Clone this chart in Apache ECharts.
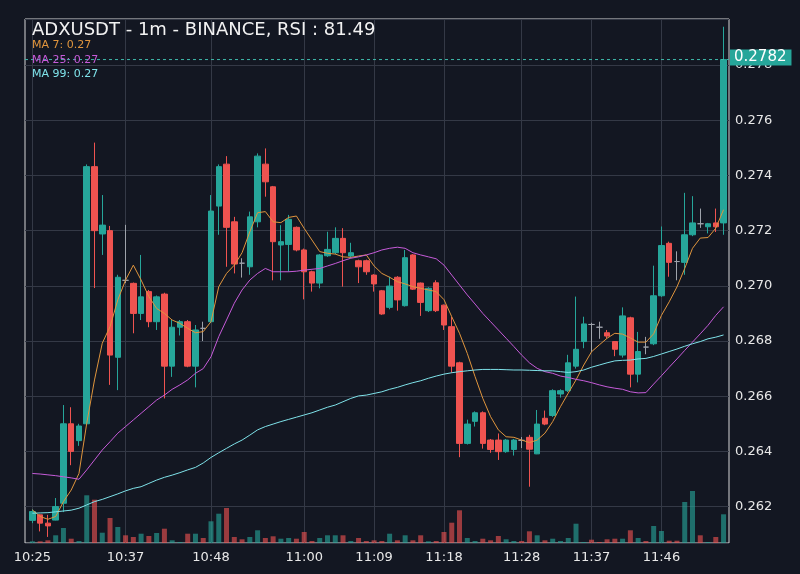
<!DOCTYPE html>
<html>
<head>
<meta charset="utf-8">
<script src="https://cdn.jsdelivr.net/npm/echarts@6/dist/echarts.min.js"></script>
<style>
  html, body { margin: 0; padding: 0; background: #131722; }
  #main { width: 800px; height: 574px; }
</style>
</head>
<body>
<div id="main"></div>
<script>
// 1m candles, 10:25 -> 11:54
var times = [];
for (var k = 0; k < 90; k++) {
  var t = 10 * 60 + 25 + k;
  times.push(Math.floor(t / 60) + ':' + ('0' + (t % 60)).slice(-2));
}
var tickLabels = ['10:25', '10:37', '10:48', '11:00', '11:09', '11:18', '11:28', '11:37', '11:46'];

var opens = [
  0.26150, 0.26170, 0.26140, 0.26151, 0.26212, 0.26500, 0.26439, 0.26500, 0.27432, 0.27188,
  0.27200, 0.26741, 0.27020, 0.27009, 0.26900, 0.26979, 0.26870, 0.26970, 0.26709, 0.26850,
  0.26870, 0.26709, 0.26846, 0.26870, 0.27289, 0.27441, 0.27232, 0.27082, 0.27069, 0.27232,
  0.27441, 0.27359, 0.27148, 0.27150, 0.27212, 0.27130, 0.27051, 0.27010, 0.27109, 0.27120,
  0.27172, 0.27108, 0.27091, 0.27091, 0.27039, 0.26982, 0.26922, 0.27031, 0.26928, 0.27112,
  0.27010, 0.26910, 0.27011, 0.26930, 0.26852, 0.26721, 0.26429, 0.26509, 0.26540, 0.26441,
  0.26441, 0.26399, 0.26407, 0.26440, 0.26451, 0.26391, 0.26520, 0.26530, 0.26608, 0.26620,
  0.26709, 0.26798, 0.26860, 0.26850, 0.26830, 0.26798, 0.26749, 0.26884, 0.26680, 0.26778,
  0.26790, 0.26964, 0.27154, 0.27088, 0.27085, 0.27185, 0.27225, 0.27214, 0.27228, 0.27228
];
var closes = [
  0.26182, 0.26140, 0.26130, 0.26200, 0.26500, 0.26400, 0.26492, 0.27432, 0.27200, 0.27220,
  0.26749, 0.27031, 0.27020, 0.26900, 0.26960, 0.26870, 0.26960, 0.26709, 0.26850, 0.26870,
  0.26709, 0.26840, 0.26846, 0.27271, 0.27432, 0.27212, 0.27079, 0.27082, 0.27250, 0.27470,
  0.27377, 0.27160, 0.27160, 0.27241, 0.27130, 0.27051, 0.27010, 0.27112, 0.27132, 0.27172,
  0.27120, 0.27120, 0.27069, 0.27051, 0.27007, 0.26898, 0.26999, 0.26949, 0.27102, 0.26988,
  0.26940, 0.26991, 0.26910, 0.26858, 0.26709, 0.26429, 0.26499, 0.26540, 0.26429, 0.26407,
  0.26399, 0.26441, 0.26441, 0.26440, 0.26408, 0.26499, 0.26499, 0.26620, 0.26620, 0.26721,
  0.26770, 0.26862, 0.26860, 0.26850, 0.26818, 0.26770, 0.26891, 0.26680, 0.26762, 0.26778,
  0.26964, 0.27146, 0.27085, 0.27088, 0.27185, 0.27228, 0.27225, 0.27225, 0.27214, 0.27820
];
var lows = [
  0.26140, 0.26110, 0.26090, 0.26150, 0.26180, 0.26350, 0.26420, 0.26500, 0.26992, 0.27112,
  0.26641, 0.26622, 0.27010, 0.26828, 0.26876, 0.26850, 0.26840, 0.26592, 0.26670, 0.26820,
  0.26705, 0.26632, 0.26800, 0.26865, 0.27185, 0.27069, 0.27045, 0.27030, 0.27040, 0.27212,
  0.27323, 0.27020, 0.27020, 0.27051, 0.27125, 0.26951, 0.26979, 0.26991, 0.27105, 0.27115,
  0.26997, 0.27100, 0.27010, 0.27040, 0.26979, 0.26895, 0.26915, 0.26910, 0.26925, 0.26985,
  0.26891, 0.26905, 0.26905, 0.26840, 0.26685, 0.26379, 0.26425, 0.26490, 0.26410, 0.26395,
  0.26369, 0.26395, 0.26385, 0.26412, 0.26272, 0.26390, 0.26495, 0.26525, 0.26595, 0.26615,
  0.26700, 0.26774, 0.26760, 0.26808, 0.26810, 0.26745, 0.26740, 0.26632, 0.26650, 0.26752,
  0.26785, 0.26960, 0.27033, 0.27020, 0.27040, 0.27180, 0.27210, 0.27190, 0.27195, 0.27185
];
var highs = [
  0.26190, 0.26172, 0.26170, 0.26231, 0.26568, 0.26560, 0.26500, 0.27440, 0.27519, 0.27329,
  0.27217, 0.27040, 0.27221, 0.27012, 0.27112, 0.26985, 0.26965, 0.26975, 0.26876, 0.26876,
  0.26876, 0.26858, 0.26870, 0.27329, 0.27440, 0.27470, 0.27250, 0.27100, 0.27269, 0.27480,
  0.27498, 0.27362, 0.27220, 0.27257, 0.27215, 0.27135, 0.27055, 0.27115, 0.27196, 0.27212,
  0.27209, 0.27156, 0.27095, 0.27095, 0.27042, 0.26985, 0.27033, 0.27035, 0.27130, 0.27115,
  0.27012, 0.26995, 0.27020, 0.26932, 0.26888, 0.26725, 0.26515, 0.26545, 0.26545, 0.26445,
  0.26465, 0.26445, 0.26445, 0.26452, 0.26460, 0.26550, 0.26548, 0.26625, 0.26625, 0.26750,
  0.26961, 0.26888, 0.26866, 0.26870, 0.26840, 0.26800, 0.26922, 0.26888, 0.26833, 0.26815,
  0.27073, 0.27215, 0.27160, 0.27125, 0.27337, 0.27325, 0.27280, 0.27228, 0.27280, 0.27939
];
var volumes = [
  1700, 1700, 2700, 7700, 15000, 4300, 2000, 47700, 43300, 10300,
  25000, 16000, 7700, 6000, 9300, 7000, 10000, 14300, 2700, 1000,
  9300, 9300, 5000, 21700, 29300, 35000, 6000, 3700, 6000, 12700,
  5000, 6700, 4300, 5000, 4300, 11000, 2000, 5000, 7700, 7700,
  7700, 2000, 5000, 2000, 2700, 2000, 9300, 2700, 7700, 2700,
  7700, 1700, 2000, 11000, 20300, 32700, 5000, 2000, 4300, 2700,
  7000, 3700, 2000, 2000, 11700, 7700, 2700, 4300, 2000, 5000,
  19300, 1000, 3300, 1000, 3700, 4300, 4300, 12700, 5000, 2000,
  17000, 12000, 2300, 2300, 41000, 52000, 7700, 1000, 6000, 28700
];
var ma7 = [
  0.26188, 0.26164, 0.26154, 0.26164, 0.26218, 0.26260, 0.26320, 0.26502, 0.26659, 0.26792,
  0.26852, 0.26949, 0.27021, 0.27075, 0.27021, 0.26961, 0.26918, 0.26900, 0.26876, 0.26864,
  0.26846, 0.26830, 0.26834, 0.26870, 0.26997, 0.27045, 0.27075, 0.27120, 0.27196, 0.27265,
  0.27269, 0.27232, 0.27229, 0.27248, 0.27253, 0.27208, 0.27166, 0.27124, 0.27118, 0.27115,
  0.27105, 0.27103, 0.27108, 0.27112, 0.27072, 0.27045, 0.27031, 0.27015, 0.27007, 0.26997,
  0.26991, 0.26985, 0.26979, 0.26950, 0.26888, 0.26828, 0.26755, 0.26671, 0.26592, 0.26526,
  0.26478, 0.26453, 0.26451, 0.26441, 0.26432, 0.26441, 0.26466, 0.26508, 0.26562, 0.26611,
  0.26659, 0.26713, 0.26761, 0.26786, 0.26810, 0.26828, 0.26825, 0.26811, 0.26796, 0.26796,
  0.26826, 0.26893, 0.26942, 0.26996, 0.27063, 0.27136, 0.27173, 0.27175, 0.27209, 0.27276
];
var ma25 = [
  0.26320, 0.26318, 0.26315, 0.26312, 0.26308, 0.26304, 0.26299, 0.26333, 0.26369, 0.26405,
  0.26435, 0.26466, 0.26490, 0.26514, 0.26538, 0.26562, 0.26586, 0.26604, 0.26625, 0.26641,
  0.26659, 0.26683, 0.26700, 0.26743, 0.26816, 0.26876, 0.26937, 0.26985, 0.27021, 0.27045,
  0.27063, 0.27051, 0.27051, 0.27051, 0.27053, 0.27057, 0.27060, 0.27063, 0.27072, 0.27081,
  0.27091, 0.27100, 0.27105, 0.27112, 0.27120, 0.27130, 0.27136, 0.27140, 0.27136, 0.27120,
  0.27112, 0.27105, 0.27098, 0.27075, 0.27039, 0.27003, 0.26967, 0.26934, 0.26900, 0.26870,
  0.26840, 0.26810, 0.26780, 0.26749, 0.26721, 0.26701, 0.26689, 0.26683, 0.26673, 0.26668,
  0.26661, 0.26656, 0.26649, 0.26641, 0.26634, 0.26629, 0.26625, 0.26616, 0.26612, 0.26613,
  0.26644, 0.26674, 0.26705, 0.26735, 0.26766, 0.26796, 0.26826, 0.26857, 0.26893, 0.26924
];
var ma99 = [
  0.26176, 0.26177, 0.26178, 0.26181, 0.26184, 0.26187, 0.26194, 0.26206, 0.26218, 0.26226,
  0.26236, 0.26246, 0.26257, 0.26266, 0.26272, 0.26284, 0.26296, 0.26306, 0.26314, 0.26323,
  0.26333, 0.26342, 0.26358, 0.26378, 0.26395, 0.26411, 0.26427, 0.26441, 0.26459, 0.26478,
  0.26490, 0.26499, 0.26508, 0.26516, 0.26524, 0.26532, 0.26540, 0.26550, 0.26560, 0.26568,
  0.26580, 0.26592, 0.26601, 0.26604, 0.26610, 0.26616, 0.26625, 0.26632, 0.26641, 0.26649,
  0.26656, 0.26665, 0.26673, 0.26680, 0.26685, 0.26689, 0.26692, 0.26695, 0.26697, 0.26697,
  0.26697, 0.26696, 0.26695, 0.26695, 0.26694, 0.26693, 0.26692, 0.26692, 0.26689, 0.26686,
  0.26689, 0.26695, 0.26705, 0.26713, 0.26721, 0.26728, 0.26730, 0.26731, 0.26735, 0.26737,
  0.26744, 0.26753, 0.26762, 0.26771, 0.26781, 0.26790, 0.26798, 0.26808, 0.26814, 0.26822
];
var lastPrice = 0.2782;
var rsi = 81.49;

var UP = '#26a69a', DOWN = '#ef5350', DOJI = '#9ea3ab';
var FONT = 'DejaVu Sans';
var X_MIN = -0.95, X_MAX = 89.7;

var chart = echarts.init(document.getElementById('main'), null, { renderer: 'canvas' });

var candleData = [], volData = [], l7 = [], l25 = [], l99 = [];
for (var i = 0; i < times.length; i++) {
  var item = { value: [i, opens[i], closes[i], lows[i], highs[i]] };
  if (opens[i] === closes[i]) {
    // doji drawn grey
    item.itemStyle = { color: DOJI, color0: DOJI, borderColor: DOJI, borderColor0: DOJI, borderColorDoji: DOJI };
  }
  candleData.push(item);
  volData.push({
    value: [i, volumes[i]],
    itemStyle: { color: closes[i] > opens[i] ? 'rgba(38,166,154,0.62)' : 'rgba(239,83,80,0.62)' }
  });
  l7.push([i, ma7[i]]);
  l25.push([i, ma25[i]]);
  l99.push([i, ma99[i]]);
}
var tickIdx = tickLabels.map(function (s) { return times.indexOf(s); });

var option = {
  backgroundColor: '#131722',
  animation: false,
  textStyle: { fontFamily: FONT },
  title: [
    { text: 'ADXUSDT - 1m - BINANCE, RSI : ' + rsi.toFixed(2), left: 32, top: 21, padding: 0,
      textStyle: { color: '#f2f2f2', fontSize: 18, fontWeight: 'normal', fontFamily: FONT } },
    { text: 'MA 7: ' + ma7[ma7.length - 1].toFixed(2), left: 32, top: 40, padding: 0,
      textStyle: { color: '#e0953d', fontSize: 11, fontWeight: 'normal', fontFamily: FONT } },
    { text: 'MA 25: ' + ma25[ma25.length - 1].toFixed(2), left: 32, top: 54.5, padding: 0,
      textStyle: { color: '#c65bd9', fontSize: 11, fontWeight: 'normal', fontFamily: FONT } },
    { text: 'MA 99: ' + ma99[ma99.length - 1].toFixed(2), left: 32, top: 69, padding: 0,
      textStyle: { color: '#7fe3ea', fontSize: 11, fontWeight: 'normal', fontFamily: FONT } }
  ],
  grid: {
    left: 25, right: 71, top: 19, bottom: 31,
    show: true, borderColor: '#d6d6d6', borderWidth: 1
  },
  xAxis: {
    type: 'value',
    min: X_MIN,
    max: X_MAX,
    axisLine: { show: false },
    axisTick: { show: false, customValues: tickIdx },
    axisLabel: {
      customValues: tickIdx,
      formatter: function (v) { return times[Math.round(v)]; },
      color: '#e8e8e8', fontSize: 13, margin: 8, fontFamily: FONT
    },
    splitLine: { show: true, lineStyle: { color: '#343946', width: 1 } }
  },
  yAxis: [
    {
      type: 'value',
      position: 'right',
      min: 0.26068,
      max: 0.27967,
      splitNumber: 10,
      axisLine: { show: false },
      axisTick: { show: false },
      axisLabel: {
        formatter: function (v) { return v.toFixed(3); },
        showMinLabel: false, showMaxLabel: false,
        color: '#e8e8e8', fontSize: 13, margin: 6, fontFamily: FONT
      },
      splitLine: { show: true, lineStyle: { color: '#343946', width: 1 } }
    },
    {
      type: 'value',
      min: 0,
      max: 524000,
      show: false
    }
  ],
  series: [
    {
      name: 'Volume',
      type: 'bar',
      xAxisIndex: 0,
      yAxisIndex: 1,
      barWidth: 5,
      data: volData
    },
    {
      name: 'ADXUSDT',
      type: 'candlestick',
      xAxisIndex: 0,
      yAxisIndex: 0,
      barWidth: 6,
      encode: { x: 0, y: [1, 2, 3, 4] },
      itemStyle: { color: UP, color0: DOWN, borderColor: UP, borderColor0: DOWN, borderColorDoji: DOJI, borderWidth: 1 },
      data: candleData
    },
    { name: 'MA 7', type: 'line', data: l7, showSymbol: false, symbol: 'none',
      lineStyle: { color: '#e0953d', width: 1 }, z: 3 },
    { name: 'MA 25', type: 'line', data: l25, showSymbol: false, symbol: 'none',
      lineStyle: { color: '#c65bd9', width: 1 }, z: 3 },
    { name: 'MA 99', type: 'line', data: l99, showSymbol: false, symbol: 'none',
      lineStyle: { color: '#7fe3ea', width: 1 }, z: 3 },
    {
      // last price line across the plot, tag on the price axis
      name: 'Last', type: 'line',
      data: [[X_MIN, lastPrice], [X_MAX, lastPrice]],
      showSymbol: false, symbol: 'none', silent: true, z: 4,
      lineStyle: { color: '#3fb8ab', type: [3, 3], width: 1 },
      endLabel: {
        show: true,
        distance: 1,
        offset: [0, -2],
        formatter: function () { return lastPrice.toFixed(4); },
        color: '#ffffff',
        backgroundColor: UP,
        fontSize: 15,
        fontFamily: FONT,
        padding: [1, 5, 0, 4]
      }
    }
  ]
};
chart.setOption(option);
</script>
</body>
</html>
